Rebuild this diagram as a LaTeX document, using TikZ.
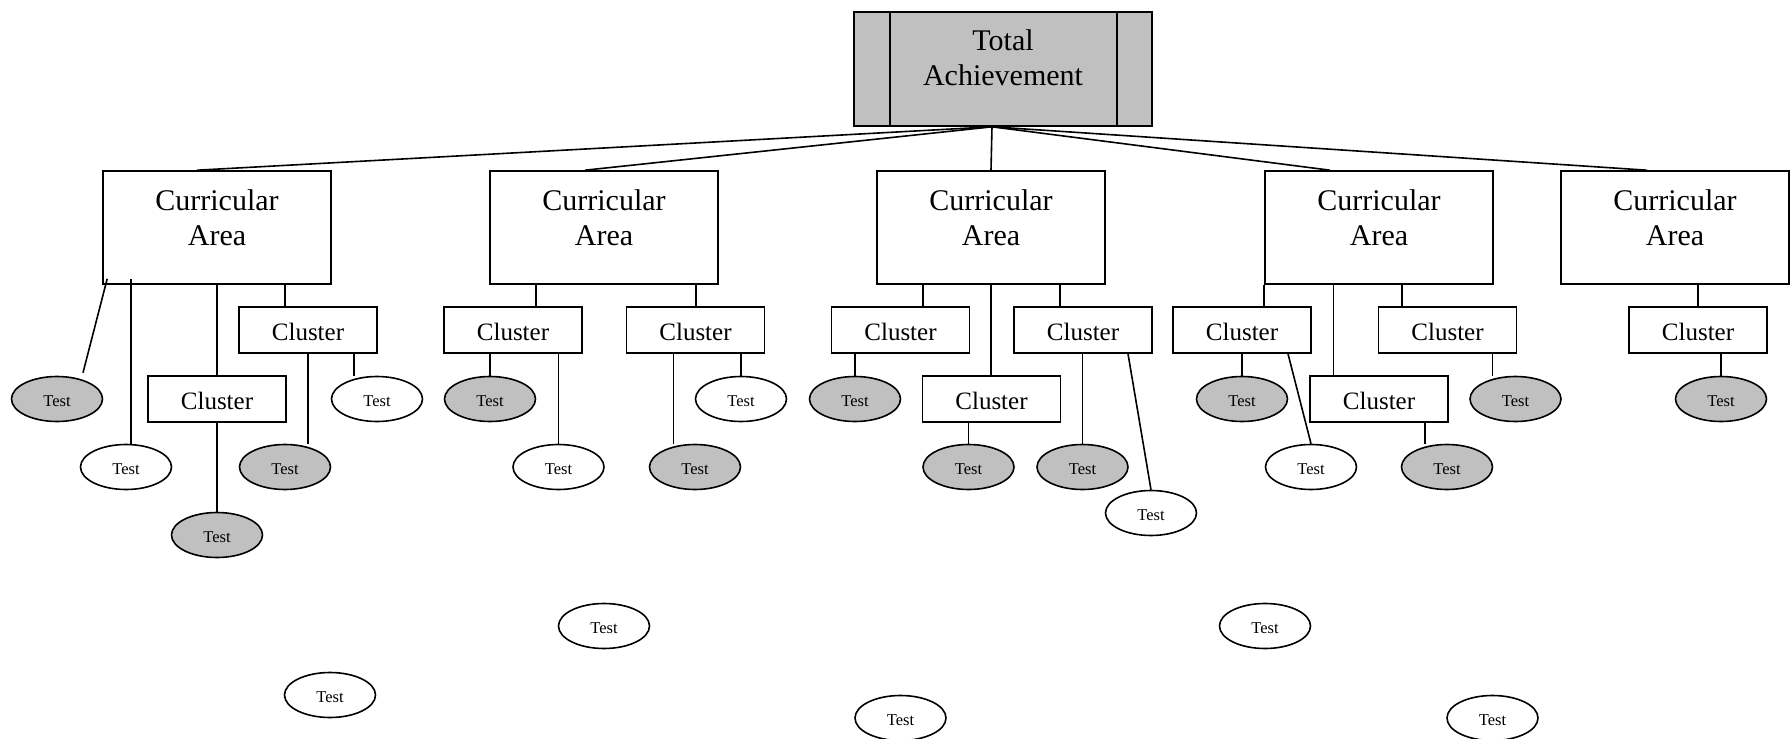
\documentclass[tikz,border=0pt]{standalone}
\usepackage{fontspec}
\setmainfont{Liberation Serif}
\usetikzlibrary{shapes.geometric}
\definecolor{boxgray}{RGB}{192,192,192}

\begin{document}
\begin{tikzpicture}[x=0.5pt, y=-0.5pt, line width=0.8pt,
		total/.style={draw, fill=boxgray, minimum width=149pt, minimum height=57pt, align=center, font=\fontsize{15}{17.5}\selectfont, text depth=11pt},
		area/.style={draw, minimum width=114pt, minimum height=56.5pt, align=center, font=\fontsize{15}{17.5}\selectfont, text depth=10pt},
		cluster/.style={draw, minimum width=69pt, minimum height=23pt, inner sep=0pt, font=\fontsize{12.5}{15}\selectfont, text height=10.5pt, text depth=0pt},
		test/.style={draw, ellipse, minimum width=45.5pt, minimum height=22.5pt, inner sep=0pt, font=\fontsize{8.25}{10}\selectfont, text height=7pt, text depth=0pt},
		graytest/.style={test, fill=boxgray}]
		\useasboundingbox (0,0) rectangle (1790,739);

		% top box
		\node[total] (top) at (1003,69) {Total\\Achievement};
		\draw ([xshift=18.5pt]top.north west) -- ([xshift=18.5pt]top.south west);
		\draw ([xshift=-18pt]top.north east) -- ([xshift=-18pt]top.south east);
		\coordinate (apex) at ([xshift=-5.5pt]top.south);

		% curricular areas
		\foreach \i/\x/\s in {1/217/-10pt, 2/604/-9.5pt, 3/991/0pt, 4/1379/-24.5pt, 5/1675/-14pt} {
			\node[area] (ca\i) at (\x,227.5) {Curricular\\Area};
			\draw (apex) -- ([xshift=\s]ca\i.north);
		}

		% clusters
		\node[cluster] (cl1a) at (308,330) {Cluster};
		\node[cluster] (cl1b) at (217,399) {Cluster};
		\node[cluster] (cl2a) at (513,330) {Cluster};
		\node[cluster] (cl2b) at (695.5,330) {Cluster};
		\node[cluster] (cl3a) at (900.5,330) {Cluster};
		\node[cluster] (cl3b) at (991.5,399) {Cluster};
		\node[cluster] (cl3c) at (1083,330) {Cluster};
		\node[cluster] (cl4a) at (1242,330) {Cluster};
		\node[cluster] (cl4b) at (1379,399) {Cluster};
		\node[cluster] (cl4c) at (1447.5,330) {Cluster};
		\node[cluster] (cl5) at (1698,330) {Cluster};

		% tests
		\node[graytest] (t1a) at (57,399) {Test};
		\node[test] (t1b) at (126,467) {Test};
		\node[graytest] (t1c) at (285,467) {Test};
		\node[test] (t1d) at (377,399) {Test};
		\node[graytest] (t1e) at (217,535) {Test};
		\node[test] (t1f) at (330,695) {Test};
		\node[graytest] (t2a) at (490,399) {Test};
		\node[test] (t2b) at (558.5,467) {Test};
		\node[graytest] (t2c) at (695,467) {Test};
		\node[test] (t2d) at (741,399) {Test};
		\node[test] (t2e) at (604,626) {Test};
		\node[graytest] (t3a) at (855,399) {Test};
		\node[graytest] (t3b) at (968.5,467) {Test};
		\node[graytest] (t3c) at (1082.5,467) {Test};
		\node[test] (t3d) at (1151,513) {Test};
		\node[test] (t3e) at (900.5,718) {Test};
		\node[graytest] (t4a) at (1242,399) {Test};
		\node[test] (t4b) at (1311,467) {Test};
		\node[graytest] (t4c) at (1447,467) {Test};
		\node[graytest] (t4d) at (1515.5,399) {Test};
		\node[test] (t4e) at (1265,626) {Test};
		\node[test] (t4f) at (1492.5,718) {Test};
		\node[graytest] (t5) at (1721,399) {Test};

		% area 1
		\draw (cl1b.north) -- (cl1b.north |- ca1.south);
		\draw ([xshift=34pt]ca1.south) -- ([xshift=34pt]ca1.south |- cl1a.north);
		\draw ([shift={(2.5pt,3pt)}]ca1.south west) -- ([shift={(13pt,1.5pt)}]t1a.north);
		\draw ([shift={(14.5pt,3pt)}]ca1.south west) -- ([xshift=14.5pt]ca1.south west |- t1b.north);
		\draw (cl1a.south) -- (cl1a.south |- t1c.north);
		\draw ([xshift=23pt]cl1a.south) -- ([xshift=23pt]cl1a.south |- t1d.north);
		\draw (cl1b) -- (t1e);

		% area 2
		\draw ([xshift=-34pt]ca2.south) -- ([xshift=-34pt]ca2.south |- cl2a.north);
		\draw ([xshift=46pt]ca2.south) -- ([xshift=46pt]ca2.south |- cl2b.north);
		\draw (t2a.north) -- (t2a.north |- cl2a.south);
		\draw (t2b.north) -- (t2b.north |- cl2a.south);
		\draw ([xshift=-11pt]cl2b.south) -- ([xshift=-11pt]cl2b.south |- t2c.north);
		\draw (t2d.north) -- (t2d.north |- cl2b.south);

		% area 3
		\draw ([xshift=-34pt]ca3.south) -- ([xshift=-34pt]ca3.south |- cl3a.north);
		\draw (ca3.south) -- (ca3.south |- cl3b.north);
		\draw ([xshift=34.5pt]ca3.south) -- ([xshift=34.5pt]ca3.south |- cl3c.north);
		\draw (t3a.north) -- (t3a.north |- cl3a.south);
		\draw (t3b.north) -- (t3b.north |- cl3b.south);
		\draw (t3c.north) -- (t3c.north |- cl3c.south);
		\draw ([xshift=22.5pt]cl3c.south) -- (t3d.north);

		% area 4
		\draw (ca4.south west) -- (ca4.south west |- cl4a.north);
		\draw ([xshift=-22.75pt]ca4.south) -- ([xshift=-22.75pt]ca4.south |- cl4b.north);
		\draw ([xshift=11.5pt]ca4.south) -- ([xshift=11.5pt]ca4.south |- cl4c.north);
		\draw (t4a.north) -- (t4a.north |- cl4a.south);
		\draw ([xshift=23pt]cl4a.south) -- (t4b.north);
		\draw ([xshift=23pt]cl4b.south) -- ([xshift=23pt]cl4b.south |- t4c.north);
		\draw ([xshift=22.5pt]cl4c.south) -- ([xshift=22.5pt]cl4c.south |- t4d.north);

		% area 5
		\draw (cl5.north) -- (cl5.north |- ca5.south);
		\draw (t5.north) -- (t5.north |- cl5.south);
\end{tikzpicture}
\end{document}
